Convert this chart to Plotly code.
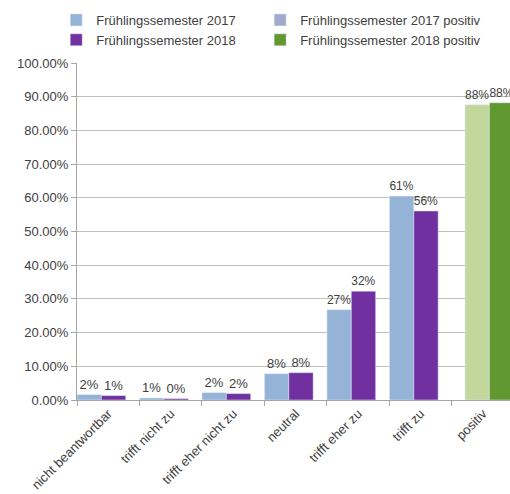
import plotly.graph_objects as go

categories = ["nicht beantwortbar", "trifft nicht zu", "trifft eher nicht zu",
              "neutral", "trifft eher zu", "trifft zu", "positiv"]
fs_2017 = [0.016, 0.006, 0.022, 0.078, 0.268, 0.605]
fs_2018 = [0.013, 0.004, 0.019, 0.081, 0.323, 0.561]
pos_2017 = [0.876]
pos_2018 = [0.882]
y_ticks = [0, 0.1, 0.2, 0.3, 0.4, 0.5, 0.6, 0.7, 0.8, 0.9, 1.0]

txt = dict(family="Arial, Liberation Sans", size=13, color="#404040")
w = 0.39

fig = go.Figure()
fig.add_trace(go.Bar(x=categories[:6], y=fs_2017, name="Frühlingssemester 2017",
                     marker_color="#95B3D7", width=w, offset=-0.5,
                     texttemplate="%{y:.0%}", textposition="outside",
                     textfont=txt, cliponaxis=False, legend="legend"))
fig.add_trace(go.Bar(x=categories[:6], y=fs_2018, name="Frühlingssemester 2018",
                     marker_color="#7030A0", width=w, offset=-0.11,
                     texttemplate="%{y:.0%}", textposition="outside",
                     textfont=txt, cliponaxis=False, legend="legend"))
fig.add_trace(go.Bar(x=categories[6:], y=pos_2017, name="Frühlingssemester 2017 positiv",
                     marker_color="#C3D69B", width=w, offset=-0.29,
                     texttemplate="%{y:.0%}", textposition="outside",
                     textfont=txt, cliponaxis=False, showlegend=False))
# Excel legend shows a greyish marker for this series
fig.add_trace(go.Bar(x=[None], y=[None], name="Frühlingssemester 2017 positiv",
                     marker_color="#A3AACB", legend="legend2"))
fig.add_trace(go.Bar(x=categories[6:], y=pos_2018, name="Frühlingssemester 2018 positiv",
                     marker_color="#61982F", width=w, offset=0.1,
                     texttemplate="%{y:.0%}", textposition="outside",
                     textfont=txt, cliponaxis=False, legend="legend2"))

leg = dict(xref="paper", yref="container", y=0.99, yanchor="top",
           xanchor="left", traceorder="normal", itemwidth=30,
           font=dict(size=13, color="#404040"), bgcolor="rgba(0,0,0,0)")

fig.update_layout(
    width=510, height=494,
    margin=dict(l=77, r=0, t=63, b=94),
    barmode="overlay",
    plot_bgcolor="white", paper_bgcolor="white",
    font=txt,
    legend=dict(leg, x=-0.048),
    legend2=dict(leg, x=0.423),
)
fig.update_xaxes(categoryorder="array", categoryarray=categories,
                 range=[-0.5, 6.43], tickangle=-45, ticks="outside",
                 tickson="boundaries", ticklen=5, tickcolor="#A6A6A6",
                 showline=True, linecolor="#A6A6A6", showgrid=False,
                 automargin=False, tickfont=dict(size=13, color="#404040"))
fig.update_yaxes(range=[0, 1.0], tickvals=y_ticks, tickformat=".2%",
                 ticks="outside", ticklen=5, tickcolor="#A6A6A6",
                 showline=True, linecolor="#A6A6A6", gridcolor="#BFBFBF",
                 zeroline=False, automargin=False,
                 tickfont=dict(size=13, color="#404040"))

# drop the default page margin so the figure fills the window exactly
fig.write_html("out.html", config={"displayModeBar": False},
               post_script="document.body.style.margin = '0';")
